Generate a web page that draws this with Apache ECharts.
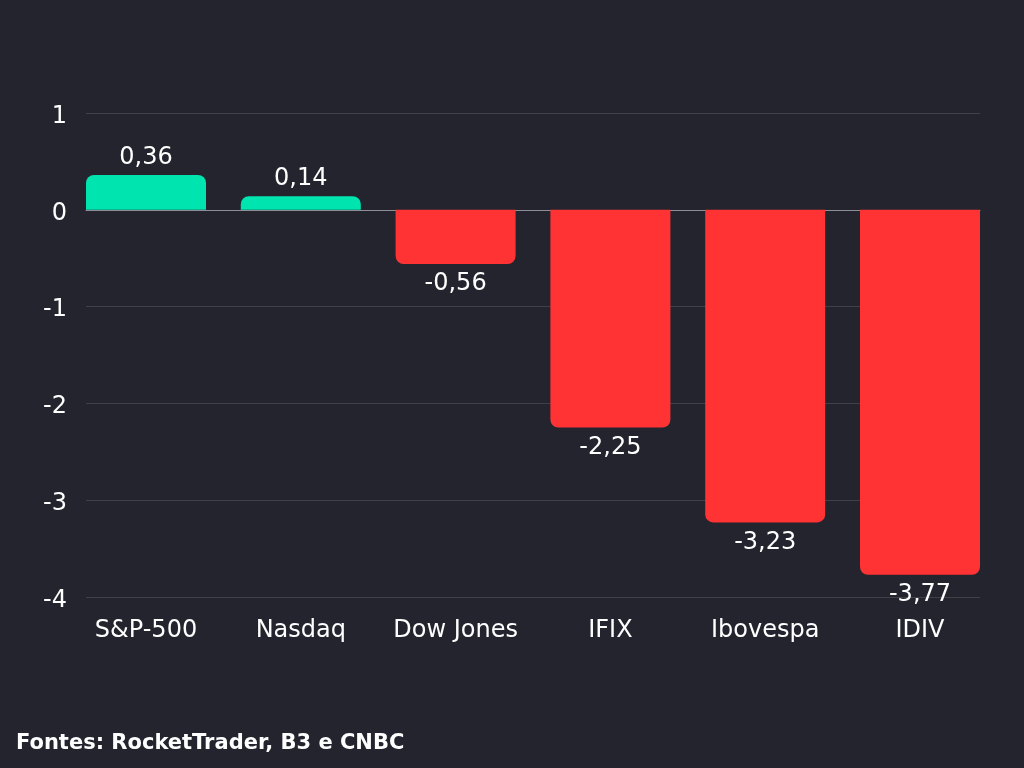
<!DOCTYPE html>
<html><head><meta charset="utf-8">
<script src="https://cdn.jsdelivr.net/npm/echarts@6/dist/echarts.min.js"></script>
<style>html,body{margin:0;padding:0;background:#24242f;}#c{width:1024px;height:768px;}</style>
</head><body><div id="c"></div>
<script>
const categories = ['S&P-500','Nasdaq','Dow Jones','IFIX','Ibovespa','IDIV'];
const values = [0.36, 0.14, -0.56, -2.25, -3.23, -3.77];
const yMin = -4, yMax = 1, yStep = 1;
const footer = 'Fontes: RocketTrader, B3 e CNBC';
const FONT = '"DejaVu Sans", "Noto Sans", sans-serif';
const chart = echarts.init(document.getElementById('c'));
chart.setOption({
  backgroundColor: '#24242f',
  animation: false,
  grid: [
    {left: 86, right: 44, top: 113, bottom: 171},
    {left: 146, right: 104, top: 113, bottom: 171}
  ],
  graphic: [{type:'text', left: 16, top: 733, style:{text: footer, fill:'#fff', font: 'bold 21px ' + FONT}}],
  xAxis: [{
    gridIndex: 0, type: 'category', data: categories,
    axisLine: {show: true, onZero: true, lineStyle: {color: '#8e8e98', width: 1}},
    axisTick: {show: false}, axisLabel: {show: false}, splitLine: {show: false}
  }, {
    gridIndex: 1, type: 'category', data: categories, boundaryGap: false,
    axisLine: {show: false, onZero: false}, axisTick: {show: false}, splitLine: {show: false},
    axisLabel: {color: '#fff', fontSize: 24, fontFamily: FONT, margin: 22, interval: 0, hideOverlap: false}
  }],
  yAxis: [{
    gridIndex: 0, type: 'value', min: yMin, max: yMax, interval: yStep,
    axisLabel: {color: '#fff', fontSize: 24, fontFamily: FONT, margin: 19,
      formatter: v => '{a|' + v + '}',
      rich: {a: {color: '#fff', fontSize: 24, fontFamily: FONT, padding: [7,0,0,0]}}},
    splitLine: {lineStyle: {color: '#40404b', width: 1}},
    axisLine: {show: false}, axisTick: {show: false}
  }, {
    gridIndex: 1, type: 'value', min: yMin, max: yMax, interval: yStep,
    axisLabel: {show: false}, splitLine: {show: false},
    axisLine: {show: false}, axisTick: {show: false}
  }],
  series: [{
    type: 'bar', xAxisIndex: 0, yAxisIndex: 0, data: [], silent: true
  }, {
    type: 'bar', xAxisIndex: 1, yAxisIndex: 1,
    barWidth: 120,
    data: values.map(v => ({
      value: v,
      itemStyle: {color: v >= 0 ? '#00e5b0' : '#ff3333', borderRadius: v >= 0 ? [8,8,0,0] : [0,0,8,8]},
      label: {position: v >= 0 ? 'top' : 'bottom', distance: v >= 0 ? 5 : 8}
    })),
    label: {show: true, color: '#fff', fontSize: 24, fontFamily: FONT,
      formatter: p => String(p.value).replace('.', ',')}
  }]
});
</script></body></html>
